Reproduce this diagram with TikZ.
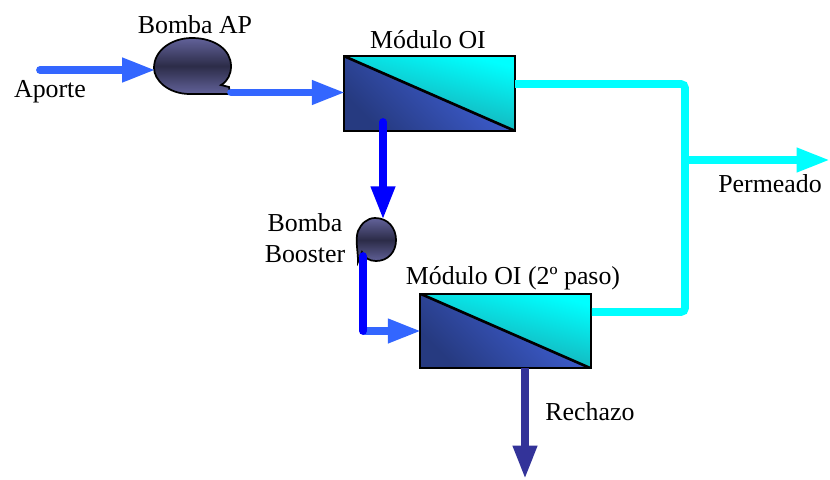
\documentclass[tikz,border=0pt]{standalone}
\usepackage{fontspec}
\setmainfont{Liberation Serif}
\usetikzlibrary{arrows.meta}
\definecolor{flowblue}{RGB}{51,102,255}
\definecolor{purecyan}{RGB}{0,255,255}
\definecolor{pureblue}{RGB}{0,0,255}
\definecolor{rejblue}{RGB}{51,51,153}
\definecolor{tealdark}{RGB}{30,150,160}
\definecolor{memdark}{RGB}{38,58,128}
\definecolor{memlight}{RGB}{66,100,224}
\definecolor{pumpdark}{RGB}{44,44,72}
\definecolor{pumplight}{RGB}{98,98,154}
\begin{document}
\begin{tikzpicture}[x=.75pt,y=-.75pt,font=\fontsize{19.4}{22}\selectfont,
module/.style={minimum width=128pt,minimum height=56pt,inner sep=0pt,path picture={
\shade[top color=purecyan,bottom color=tealdark,shading angle=-15] (path picture bounding box.north west)--(path picture bounding box.north east)--(path picture bounding box.south east)--cycle;
\shade[top color=memlight,bottom color=memdark,shading angle=-45] (path picture bounding box.north west)--(path picture bounding box.south west)--(path picture bounding box.south east)--cycle;
\draw[line width=2pt] (path picture bounding box.north west)--(path picture bounding box.south east);
},draw,line width=1.4pt},
pumpbody/.style={draw,line width=1.3pt,top color=pumplight,bottom color=pumplight,middle color=pumpdark},
pipe/.style={line width=5.8pt,line cap=round},
flow/.style={pipe,shorten >=-1.5pt,-{Triangle[length=25pt,width=17pt]}}]
\useasboundingbox (0,0) rectangle (830,479);
\node[inner sep=0pt] (aporte) at (50,92) {Aporte};
\node[inner sep=0pt] (labelAP) at (195,25) {Bomba AP};
\node[inner sep=0pt] (labelOI) at (428,40) {Módulo OI};
\node[inner sep=0pt,align=center] (labelBooster) at (305,238) {Bomba\\[1.5pt]Booster};
\node[inner sep=0pt] (labelOIb) at (513,278) {Módulo OI (2º paso)};
\node[inner sep=0pt] (permeado) at (770,184) {Permeado};
\node[inner sep=0pt] (rechazo) at (590,412) {Rechazo};
\node[module] (oi) at (429.5,93.5) {};
\node[module] (oib) at (505.5,331) {};
\node[minimum width=58pt,minimum height=43pt,inner sep=0pt] (bombaAP) at (192.5,66.5) {};
\node[minimum width=29pt,minimum height=33pt,inner sep=0pt] (booster) at (376,240) {};
\path[pumpbody] (230,94) -- (190,94) .. controls (168,94) and (154,80) .. (154,68) .. controls (154,50) and (172,38) .. (192,38) .. controls (215,38) and (231,50) .. (231,66) .. controls (231,74) and (228,81) .. (221,85) -- (229,87) -- cycle;
\path[pumpbody] (358,262) .. controls (358,250) and (355,240) .. (358,231) .. controls (361,224) and (367,218) .. (375,218) .. controls (388,218) and (396,228) .. (396,240) .. controls (396,252) and (388,261) .. (376,261) .. controls (369,261) and (365,258) .. (362,252) -- cycle;
\coordinate (inAP) at (40,70);
\coordinate (outAP) at (231,92.5);
\coordinate (outOI) at (383,122);
\coordinate (outBooster) at (363,256);
\coordinate (elbowBooster) at (363,331);
\coordinate (outOIc) at (515,84);
\coordinate (elbowOI) at (685,84);
\coordinate (teePerm) at (685,160);
\coordinate (elbowOIb) at (685,312);
\coordinate (outPerm) at (828,160);
\coordinate (outRej) at (525,477);
\coordinate (startRej) at (525,368);
\draw[flow,flowblue] (inAP)--(inAP-|bombaAP.west);
\draw[flow,flowblue] (outAP)--(outAP-|oi.west);
\draw[flow,pureblue] (outOI)--(outOI|-booster.north);
\draw[flow,flowblue,line cap=butt] (elbowBooster)--(elbowBooster-|oib.west);
\draw[pipe,pureblue] (outBooster)--(elbowBooster);
\draw[pipe,purecyan,line cap=butt,rounded corners=3pt] (outOIc)--(elbowOI)--(elbowOIb)--(elbowOIb-|oib.east);
\draw[flow,purecyan,line cap=butt] (teePerm)--(outPerm);
\draw[flow,rejblue,line cap=butt] (startRej)--(outRej);
\end{tikzpicture}
\end{document}
